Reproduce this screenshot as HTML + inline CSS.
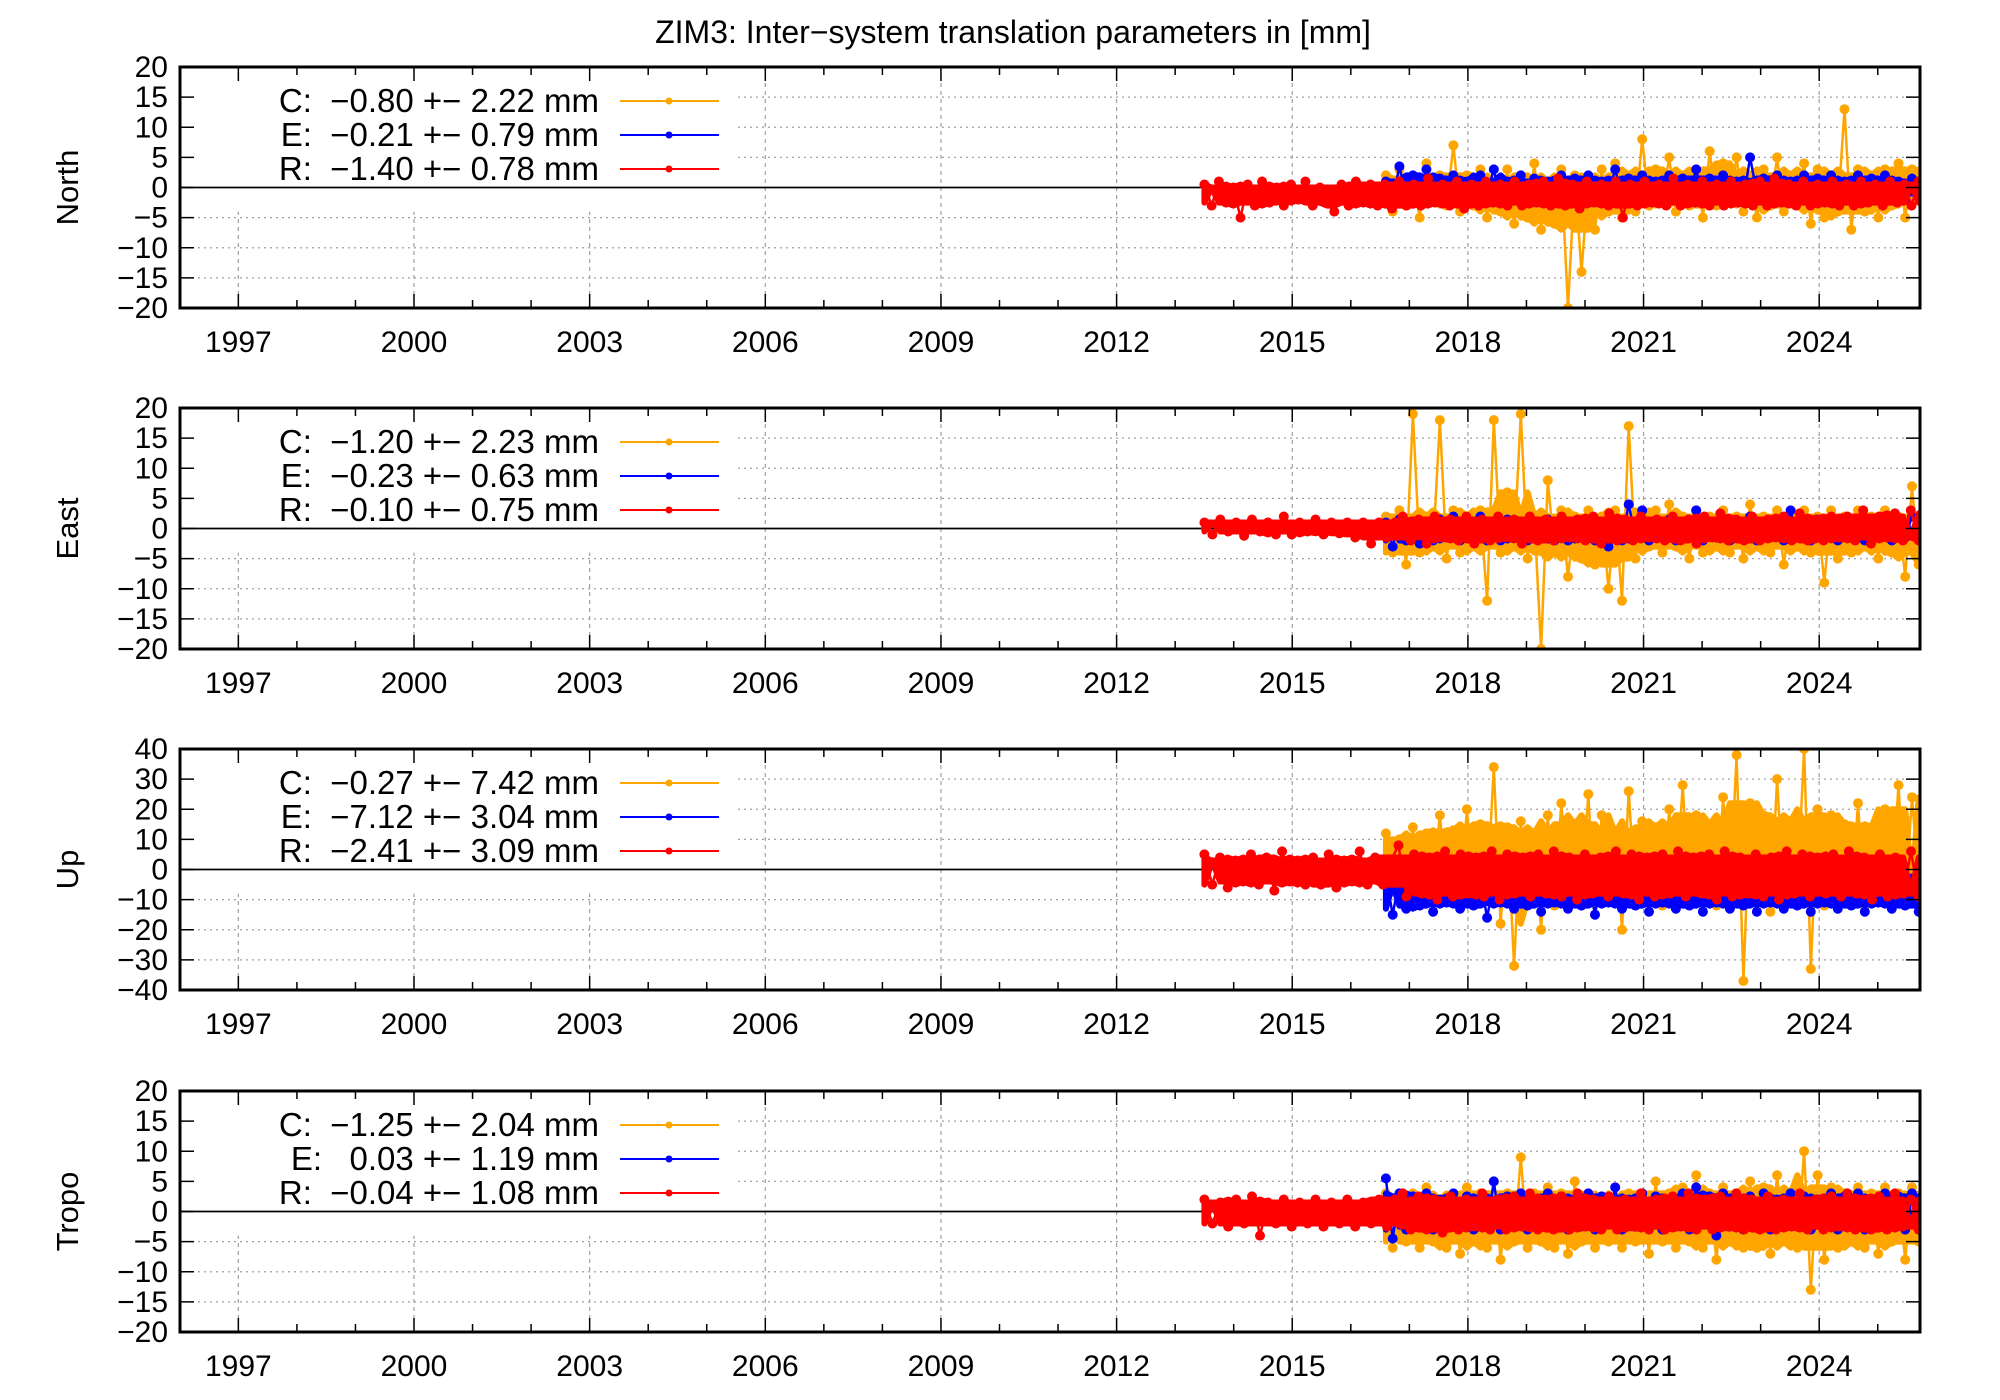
<!DOCTYPE html>
<html><head><meta charset="utf-8"><style>
html,body{margin:0;padding:0;background:#fff}
svg{display:block}
text{font-family:"Liberation Sans",sans-serif;fill:#000}
</style></head><body>
<svg id="chart" width="2000" height="1400" viewBox="0 0 2000 1400" xmlns="http://www.w3.org/2000/svg">
<text x="1013" y="43" font-size="32" text-anchor="middle">ZIM3: Inter−system translation parameters in [mm]</text>
</svg>
<script>
const panelNames = ["North","East","Up","Tropo"];
const panelRanges = [20,20,40,20];
const yTickStepsArr = [5,5,10,5];
const legendC = ["C:  −0.80 +− 2.22 mm","C:  −1.20 +− 2.23 mm","C:  −0.27 +− 7.42 mm","C:  −1.25 +− 2.04 mm"];
const legendE = ["E:  −0.21 +− 0.79 mm","E:  −0.23 +− 0.63 mm","E:  −7.12 +− 3.04 mm","E:   0.03 +− 1.19 mm"];
const legendR = ["R:  −1.40 +− 0.78 mm","R:  −0.10 +− 0.75 mm","R:  −2.41 +− 3.09 mm","R:  −0.04 +− 1.08 mm"];
const yearLabels = [1997,2000,2003,2006,2009,2012,2015,2018,2021,2024];
const spanCE = [2016.6,2025.7];
const spanR = [2013.5,2025.7];

const cNorth = [2,-4,3,-3,1.5,-5,4,-2,2,-3,7,-4,2,-3,3,-5,1,-4,3,-6,2,-5,4,-7,1,-6,3,-20,2,-14,1,-7,3,-4,4,-5,2,-4,8,-3,3,-2,5,-4,2,-3,3,-5,6,-3,4,-2,5,-4,2,-5,3,-3,5,-4,2,-3,4,-6,3,-5,2,-4,13,-7,3,-4,2,-5,3,-3,4,-5,3,-2];
const eNorth = [1,-2,3.5,-1.5,2,-1,3,-2,1.5,-1,2,-2,1,-1.5,2,-1,3,-2,1,-1.5,2,-2,1.5,-1,1,-2,2,-1,1.5,-1.5,2,-2,1,-1,3,-1.5,1.5,-2,2,-1,1,-2,2,-1.5,1.5,-1,3,-2,1.5,-1,2,-1.5,1,-2,5,-1,1.5,-2,2,-1,1,-1.5,2,-2,1.5,-1,2,-1.5,1,-2,2,-1,1.5,-1.5,2,-1,1,-2,1.5,-1];
const rNorth = [0.5,-3,1,-2.5,0,-5,0.5,-3,1,-2.5,0,-3,0.5,-2,1,-3,0,-2.5,-4,0.5,-3,1,-2.5,0.5,-3,0.5,-3.5,1,-3,0.5,-3,1.5,-2.5,0.5,-3,1,-3.5,0.5,-3,1,-2.5,0.5,-3,1,-3,0.5,-2.5,1,-3,1.5,-3,0.5,-3.5,1,-2.5,0.5,-3,1,-5,0.5,-3,1,-2.5,0.5,-3,1.5,-3,0.5,-2.5,1,-3,0.5,-3,1,-2.5,0.5,-3,1,-3,1.5,-2.5,0.5,-3,1,-3,0.5,-2.5,1,-3,0.5,-3,1,-2.5,0.5,-3,1,-2.5,0.5,-3,1];

const cEast = [2,-4,3,-6,19,-4,2,-3,18,-5,3,-4,2,-3,3,-12,18,-4,6,-3,19,-5,2,-20,8,-4,3,-8,2,-5,3,-6,2,-10,3,-12,17,-5,2,-3,3,-4,4,-3,2,-5,3,-4,2,-3,3,-4,2,-5,4,-3,2,-4,3,-6,2,-3,3,-4,2,-9,3,-5,2,-4,3,-3,2,-5,3,-4,2,-8,7,-6];
const eEast = [1,-3,1.5,-2,1,-2.5,1,-2,1.5,-1.5,2,-2,1,-1.5,2,-2,1,-2,1.5,-1.5,1,-2,1,-1.5,1.5,-2,1,-2,1,-1.5,1,-2,1,-3,1.5,-2,4,-1.5,3,-2,1,-1.5,1.5,-2,1,-1.5,3,-2,1,-1.5,1.5,-2,1,-1.5,2,-2,1,-1.5,1.5,-2,3,-1.5,1,-2,1.5,-1.5,1,-2,1.5,-1.5,1,-2,1.5,-1.5,1,-2,1.5,-1.5,2,-1];
const rEast = [1,-1,1.5,-0.5,1,-1.2,1.5,-0.5,1,-1,2,-1,1,-0.5,1.5,-1,1,-0.8,1,-1.5,1,-2.5,1,-1.5,1,2,-2,1.5,-2.5,2,-1.5,1.5,-2,2,-2.5,1.5,-2,2,-1.5,1.5,-2.5,2,-2,1.5,-2,2,-1.5,1.5,-2,2,-2.5,2.5,-2,1.5,-2,2,-1.5,1.5,-2,2,-2,1.5,-2.5,2,-1.5,2.5,-2,1.5,-2,2,-2,1.5,-1.5,2,-2,2.5,-2,1.5,-2,2,-1.5,2,-2,3,-2.5,2,-1.5,2.5,-2,3,-2];

const cUp = [12,-5,10,-3,14,-8,12,-4,18,-6,13,-10,20,-5,15,-8,34,-18,14,-32,16,-10,12,-20,18,-12,22,-8,15,-10,25,-15,18,-8,12,-20,26,-10,16,-6,14,-12,20,-8,28,-10,18,-6,15,-12,24,-10,38,-37,22,-8,18,-14,30,-10,16,-8,40,-33,20,-12,18,-8,15,-10,22,-12,14,-8,20,-6,28,-10,24,-5];
const eUp = [-2,-15,-3,-13,-5,-12,-2,-14,-3,-11,-4,-13,-1,-12,-3,-16,-4,-11,-3,-13,-2,-12,-5,-14,-3,-11,-2,-13,-4,-12,-3,-15,-2,-11,-4,-13,-3,-12,-1,-14,-4,-11,-3,-13,-2,-12,-4,-14,-3,-11,-2,-13,-4,-12,-3,-14,-2,-11,-4,-13,-3,-12,-2,-14,-4,-11,-3,-13,-2,-12,-4,-14,-3,-11,-2,-13,-4,-12,-3,-14];
const rUp = [5,-5,4,-6,3,-4,5,-5,4,-7,6,-4,3,-5,4,-5,5,-6,3,-4,6,-5,4,-5,3,8,-9,5,-8,4,-10,6,-9,5,-8,4,-9,6,-10,5,-8,4,-9,5,-8,6,-9,4,-10,5,-8,4,-9,6,-8,5,-10,4,-9,5,-8,6,-9,4,-8,5,-10,6,-9,4,-8,5,-9,4,-10,6,-8,5,-9,4,-8,5,-9,6,-8,4,-10,5,-9,4,-8,6,-9];

const cTropo = [3,-6,2,-5,3,-6,4,-5,2,-6,3,-7,4,-5,3,-6,5,-8,3,-5,9,-6,3,-5,4,-6,3,-7,5,-5,3,-6,2,-5,4,-6,3,-5,3,-7,5,-5,3,-6,4,-5,6,-6,3,-8,4,-5,3,-6,5,-6,4,-7,6,-5,3,-6,10,-13,6,-8,4,-6,3,-5,4,-6,3,-7,4,-5,3,-8,4,-5];
const eTropo = [5.5,-4.5,3,-3,2.5,-2.5,3,-3,2,-2.5,3,-2,2.5,-3,2,-2.5,5,-3,2.5,-2,3,-3,2,-2.5,3,-2,2.5,-3,2,-2.5,3,-3,2.5,-2,4,-3,2,-2.5,3,-2,2.5,-3,2,-2.5,3,-3,4,-2,2.5,-4,3,-2.5,2,-3,2.5,-2,3,-3,2,-2.5,3,-2,2.5,-3,2,-2.5,3,-3,2.5,-2,3,-3,2,-2.5,3,-2,2.5,-3,3,-2];
const rTropo = [2,-2,1.5,-2.5,2,-2,2.5,-4,1.5,-2,2,-2.5,1.5,-2,2,-2.5,1.5,-2,2,-2.5,1.5,-2,2,-2.5,2,3,-3,2.5,-3,2,-3.5,2.5,-3,2,-2.5,3,-3,2,-3,2.5,-2.5,3,-3,2,-3,2.5,-3,3,-2.5,2,-3,2.5,-3,2,-2.5,3,-3,2,-3,2.5,-2.5,3,-3,2,-3,2.5,-2.5,3,-3,2,-3,2.5,-3,2,-2.5,3,-3,2,-3,2.5,-2.5,3,-3,2,-3,2.5,-3,3,-2.5,2,-3];

const cSeries = [cNorth,cEast,cUp,cTropo];
const eSeries = [eNorth,eEast,eUp,eTropo];
const rSeries = [rNorth,rEast,rUp,rTropo];

const NS = "http://www.w3.org/2000/svg";
const svg = document.getElementById("chart");
const L = 180, R = 1920, H = 241;
const tops = [67,408,749,1091];
function xs(yr){ return 414 + (yr - 2000) * 58.55; }
function mk(tag, attrs, parent){
  const el = document.createElementNS(NS, tag);
  for (const k in attrs) el.setAttribute(k, attrs[k]);
  (parent || svg).appendChild(el);
  return el;
}
const colors = {C:"#ffa500", E:"#0000ff", R:"#ff0000"};
function nth(vals, i, hi){
  const w = vals.slice(Math.max(0, i - 3), Math.min(vals.length, i + 4)).sort((a, b) => a - b);
  return hi ? w[Math.max(0, w.length - 3)] : w[Math.min(w.length - 1, 2)];
}

panelNames.forEach((name, p) => {
  const top = tops[p], bot = top + H, rng = panelRanges[p];
  const ys = v => top + (rng - v) / (2 * rng) * H;
  const g = mk("g", {});
  
  
  const cp = mk("clipPath", {id: "clip" + p}, g);
  mk("rect", {x: L, y: top, width: R - L, height: H}, cp);
  const grid = mk("g", {}, g);
  
  
  const step = yTickStepsArr[p];
  for (let v = -rng + step; v < rng; v += step) {
    if (v === 0) continue;
    mk("line", {x1: L, x2: R, y1: ys(v), y2: ys(v), stroke: "#a0a0a0", "stroke-width": 1.2, "stroke-dasharray": "2,4"}, grid);
  }
  yearLabels.forEach(yr => {
    mk("line", {x1: xs(yr), x2: xs(yr), y1: top, y2: bot, stroke: "#a0a0a0", "stroke-width": 1.2, "stroke-dasharray": "4,4"}, grid);
  });
  mk("rect", {x: L + 2, y: top + 2, width: 555, height: ys(-rng + 3 * step) - top - 8, fill: "#fff"}, g);
  const z = mk("line", {x1: L, x2: R, y1: ys(0), y2: ys(0), stroke: "#000", "stroke-width": 1.8}, g);
  
  
  const data = [["C", cSeries[p], spanCE], ["E", eSeries[p], spanCE], ["R", rSeries[p], spanR]];
  const sg = mk("g", {"clip-path": "url(#clip" + p + ")"}, g);
  data.forEach(([key, vals, span]) => {
    const n = vals.length;
    const xAt = i => xs(span[0] + (span[1] - span[0]) * i / (n - 1));
    const pts = vals.map((v, i) => [xAt(i), ys(v)]);
    const s = mk("g", {}, sg);
    
    
    const up = vals.map((v, i) => xAt(i).toFixed(1) + "," + ys(nth(vals, i, true)).toFixed(1));
    const lo = vals.map((v, i) => xAt(i).toFixed(1) + "," + ys(nth(vals, i, false)).toFixed(1)).reverse();
    mk("polygon", {points: up.concat(lo).join(" "), fill: colors[key], stroke: colors[key], "stroke-width": 6, "stroke-linejoin": "round"}, s);
    mk("polyline", {points: pts.map(q => q[0].toFixed(1) + "," + q[1].toFixed(1)).join(" "), fill: "none", stroke: colors[key], "stroke-width": 2.5}, s);
    pts.forEach(q => {
      const c = mk("circle", {cx: q[0].toFixed(1), cy: q[1].toFixed(1), r: 5, fill: colors[key]}, s);
      
      
    });
  });
  for (let yr = 1996; yr <= 2025; yr++) {
    const len = yearLabels.includes(yr) ? 14 : 8;
    mk("line", {x1: xs(yr), x2: xs(yr), y1: bot, y2: bot - len, stroke: "#000", "stroke-width": 1.5}, g);
    mk("line", {x1: xs(yr), x2: xs(yr), y1: top, y2: top + len, stroke: "#000", "stroke-width": 1.5}, g);
  }
  for (let v = -rng; v <= rng; v += step) {
    mk("line", {x1: L, x2: L + 14, y1: ys(v), y2: ys(v), stroke: "#000", "stroke-width": 1.5}, g);
    mk("line", {x1: R, x2: R - 14, y1: ys(v), y2: ys(v), stroke: "#000", "stroke-width": 1.5}, g);
    const t = mk("text", {x: 168, y: ys(v) + 10, "font-size": 30, "text-anchor": "end"}, g);
    
    
    t.textContent = (v < 0 ? "−" + (-v) : String(v));
  }
  yearLabels.forEach(yr => {
    const t = mk("text", {x: xs(yr), y: bot + 44, "font-size": 30, "text-anchor": "middle"}, g);
    
    
    t.textContent = yr;
  });
  const fr = mk("rect", {x: L, y: top, width: R - L, height: H, fill: "none", stroke: "#000", "stroke-width": 3}, g);
  
  
  const yt = mk("text", {x: 0, y: 0, "font-size": 31, "text-anchor": "middle", transform: "translate(78," + (top + H / 2) + ") rotate(-90)"}, g);
  
  
  yt.textContent = name;
  const lg = mk("g", {}, g);
  
  
  [[legendC[p], "C"], [legendE[p], "E"], [legendR[p], "R"]].forEach(([txt, key], i) => {
    const y = top + 34 + i * 34;
    const t = mk("text", {x: 599, y: y + 11, "font-size": 33, "text-anchor": "end", "xml:space": "preserve"}, lg);
    t.style.whiteSpace = "pre";
    
    
    t.textContent = txt;
    mk("line", {x1: 620, x2: 719, y1: y, y2: y, stroke: colors[key], "stroke-width": 2}, lg);
    mk("circle", {cx: 669, cy: y, r: 3.5, fill: colors[key]}, lg);
  });
});
</script>
</body></html>
